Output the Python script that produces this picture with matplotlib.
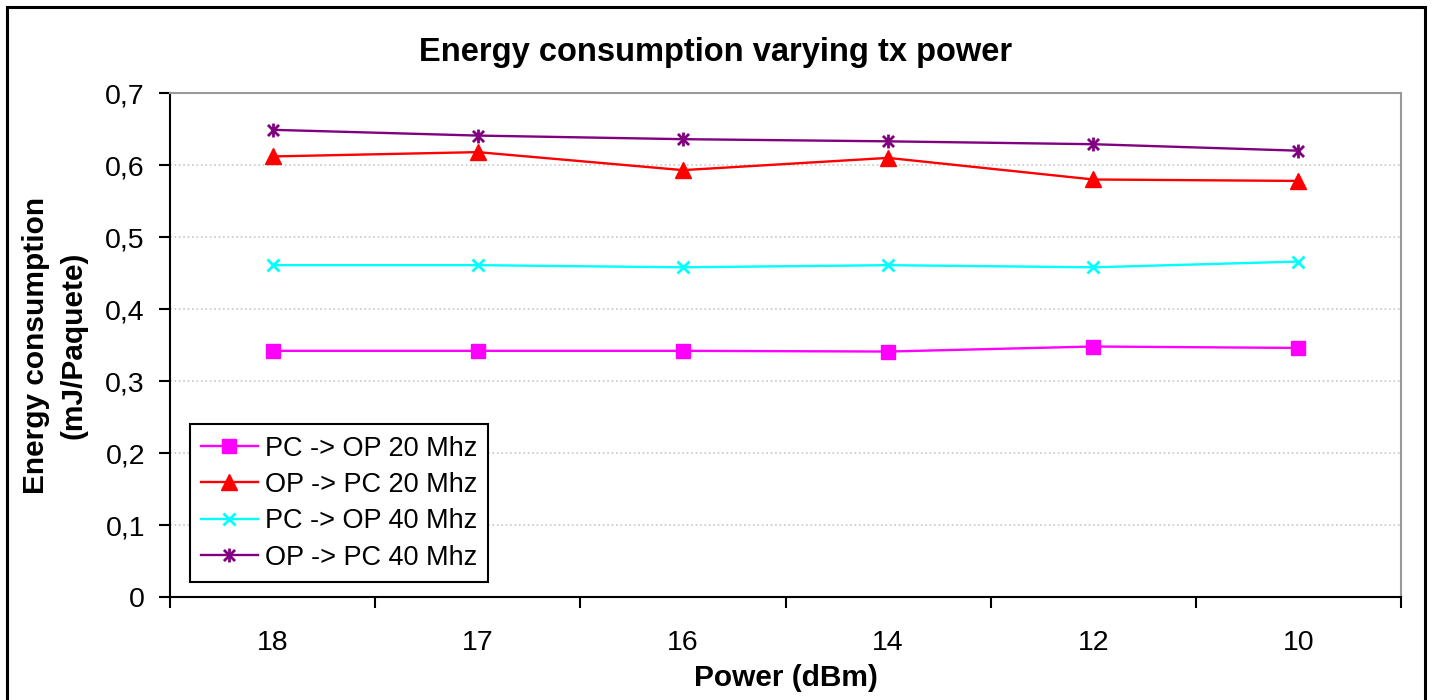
import numpy as np
import matplotlib
matplotlib.use("Agg")
import matplotlib.pyplot as plt
from matplotlib.path import Path
from matplotlib.patches import Rectangle

plt.rcParams['font.family'] = ['Liberation Sans', 'DejaVu Sans']

potencias = ['18', '17', '16', '14', '12', '10']
pc_op_20 = [0.342, 0.342, 0.342, 0.341, 0.348, 0.346]
op_pc_20 = [0.612, 0.618, 0.593, 0.610, 0.580, 0.578]
pc_op_40 = [0.461, 0.461, 0.458, 0.461, 0.458, 0.466]
op_pc_40 = [0.649, 0.641, 0.636, 0.633, 0.629, 0.620]

nomes = ['PC -> OP 20 Mhz', 'OP -> PC 20 Mhz', 'PC -> OP 40 Mhz', 'OP -> PC 40 Mhz']

# asterisco estilo Excel: barra vertical + X
asterisco = Path(
    [(0, -1), (0, 1), (-0.8, -0.8), (0.8, 0.8), (-0.8, 0.8), (0.8, -0.8)],
    [Path.MOVETO, Path.LINETO, Path.MOVETO, Path.LINETO, Path.MOVETO, Path.LINETO])

fig = plt.figure(figsize=(14.32, 7.0), dpi=100)
ax = fig.add_axes([0.1187, 0.1471, 0.8597, 0.7199])

x = np.arange(len(potencias))
ax.plot(x, pc_op_20, color='#FF00FF', lw=1.7, marker='s', ms=9.5, label=nomes[0])
ax.plot(x, op_pc_20, color='#FF0000', lw=1.7, marker='^', ms=11, label=nomes[1])
ax.plot(x, pc_op_40, color='#00FFFF', lw=1.7, marker='x', ms=8.5, mew=2, label=nomes[2])
ax.plot(x, op_pc_40, color='#800080', lw=1.7, marker=asterisco, ms=10, mew=2, label=nomes[3])

ax.set_xlim(-0.5, len(potencias) - 0.5)
ax.set_ylim(0, 0.7)
ax.set_yticks(np.arange(0, 0.71, 0.1))
ax.set_yticklabels([('%.1f' % v).replace('.', ',') if v > 0 else '0'
                    for v in np.arange(0, 0.71, 0.1)])
ax.set_xticks(np.arange(-0.5, len(potencias), 1.0))
ax.set_xticklabels([])
ax.set_xticks(x, minor=True)
ax.set_xticklabels(potencias, minor=True)
ax.tick_params(axis='x', which='major', length=8, width=1.5, direction='out')
ax.tick_params(axis='x', which='minor', length=0, pad=24, labelsize=20.5)
ax.tick_params(axis='y', length=8, width=1.5, direction='out', labelsize=20.5, pad=10)

ax.grid(axis='y', color='#c8c8c8', linestyle=':', lw=1.2)
ax.set_axisbelow(True)
for lado in ['left', 'bottom']:
    ax.spines[lado].set_color('black')
    ax.spines[lado].set_linewidth(1.5)
for lado in ['top', 'right']:
    ax.spines[lado].set_color('#9a9a9a')
    ax.spines[lado].set_linewidth(1.5)

fig.text(0.5, 1 - 53 / 700, 'Energy consumption varying tx power', fontsize=23.5,
         fontweight='bold', ha='center', va='center')
ax.set_xlabel('Power (dBm)', fontsize=21.5, fontweight='bold')
ax.xaxis.set_label_coords(0.5, -(678 - 597) / 504)
ax.xaxis.label.set_va('center')
ax.set_ylabel('Energy consumption\n(mJ/Paquete)', fontsize=21.5, fontweight='bold',
              linespacing=1.45)
ax.yaxis.set_label_coords((55 - 170) / 1231, 0.5)
ax.yaxis.label.set_va('center')

leg = ax.legend(loc='lower left', bbox_to_anchor=(0.016, 0.03), borderaxespad=0,
                fontsize=19.5, fancybox=False, edgecolor='black', framealpha=1,
                handlelength=2.1, labelspacing=0.38, borderpad=0.42, handletextpad=0.25)
leg.get_frame().set_linewidth(1.5)

fig.patches.append(Rectangle((7 / 1432, -0.05), 1418 / 1432, 1.04, transform=fig.transFigure,
                             fill=False, edgecolor='black', lw=2.2))

fig.savefig('out.png', dpi=100)
